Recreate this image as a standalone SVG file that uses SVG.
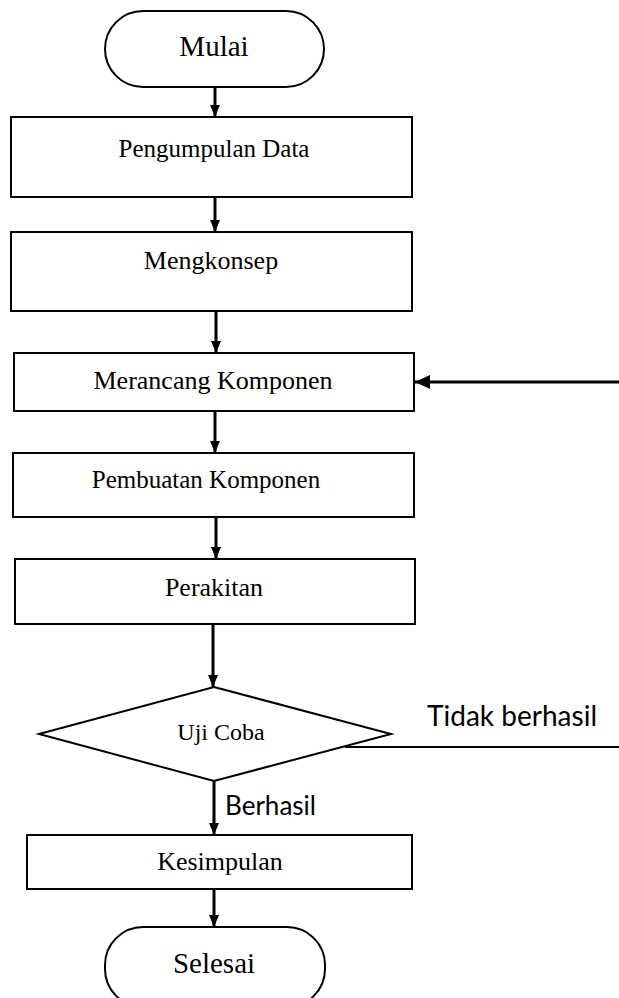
<svg xmlns="http://www.w3.org/2000/svg" width="619" height="998" viewBox="0 0 619 998">
<style>
.box{fill:#fff;stroke:#000;stroke-width:2}
.lbl{font-family:"Liberation Serif","Times New Roman",serif;fill:#000;text-anchor:middle}
.sans{font-family:Lato,"Liberation Sans",sans-serif;fill:#000}
.con{stroke:#000;stroke-width:3;fill:none}
.thin{stroke:#000;stroke-width:2;fill:none}
</style>
<defs>
<marker id="ah" markerWidth="12" markerHeight="12" viewBox="0 0 12 12" refX="12" refY="6" orient="auto" markerUnits="userSpaceOnUse">
<path d="M0,1 L12,6 L0,11 Z" fill="#000"/>
</marker>
<marker id="ah2" markerWidth="15" markerHeight="14" viewBox="0 0 15 14" refX="15" refY="7" orient="auto" markerUnits="userSpaceOnUse">
<path d="M0,0 L15,7 L0,14 Z" fill="#000"/>
</marker>
</defs>
<g id="connectors">
<line class="con" x1="215" y1="87" x2="215" y2="117" marker-end="url(#ah)"/>
<line class="con" x1="215" y1="197" x2="215" y2="232" marker-end="url(#ah)"/>
<line class="con" x1="216" y1="311" x2="216" y2="353" marker-end="url(#ah)"/>
<line class="con" x1="215" y1="411" x2="215" y2="453" marker-end="url(#ah)"/>
<line class="con" x1="216" y1="517" x2="216" y2="559" marker-end="url(#ah)"/>
<line class="con" x1="213" y1="624" x2="213" y2="687" marker-end="url(#ah)"/>
<line class="con" x1="214" y1="781" x2="214" y2="835" marker-end="url(#ah)"/>
<line class="con" x1="214" y1="889" x2="214" y2="927" marker-end="url(#ah)"/>
<line class="con" x1="619" y1="382" x2="415" y2="382" marker-end="url(#ah2)"/>
<line class="thin" x1="345" y1="747" x2="619" y2="747"/>
<text class="sans" x="427" y="726" font-size="28" textLength="170" lengthAdjust="spacingAndGlyphs">Tidak berhasil</text>
<text class="sans" x="225" y="815" font-size="26" textLength="91" lengthAdjust="spacingAndGlyphs">Berhasil</text>
</g>
<g id="mulai">
<rect class="box" x="105" y="11" width="219" height="76" rx="38" ry="38"/>
<text class="lbl" x="214" y="56" font-size="29">Mulai</text>
</g>
<g id="pengumpulan">
<rect class="box" x="11" y="117" width="401" height="80"/>
<text class="lbl" x="214" y="157" font-size="25">Pengumpulan Data</text>
</g>
<g id="mengkonsep">
<rect class="box" x="11" y="232" width="401" height="79"/>
<text class="lbl" x="211" y="269" font-size="26">Mengkonsep</text>
</g>
<g id="merancang">
<rect class="box" x="14" y="353" width="400" height="58"/>
<text class="lbl" x="213" y="389" font-size="26">Merancang Komponen</text>
</g>
<g id="pembuatan">
<rect class="box" x="13" y="453" width="401" height="64"/>
<text class="lbl" x="206" y="488" font-size="25">Pembuatan Komponen</text>
</g>
<g id="perakitan">
<rect class="box" x="15" y="559" width="400" height="65"/>
<text class="lbl" x="214" y="596" font-size="26">Perakitan</text>
</g>
<g id="ujicoba">
<polygon class="box" points="214,687 391,734 214,781 39,734"/>
<text class="lbl" x="221" y="740" font-size="24">Uji Coba</text>
</g>
<g id="kesimpulan">
<rect class="box" x="27" y="835" width="385" height="54"/>
<text class="lbl" x="220" y="870" font-size="26">Kesimpulan</text>
</g>
<g id="selesai">
<rect class="box" x="105" y="927" width="220" height="80" rx="38" ry="38"/>
<text class="lbl" x="214" y="973" font-size="29">Selesai</text>
</g>
</svg>
